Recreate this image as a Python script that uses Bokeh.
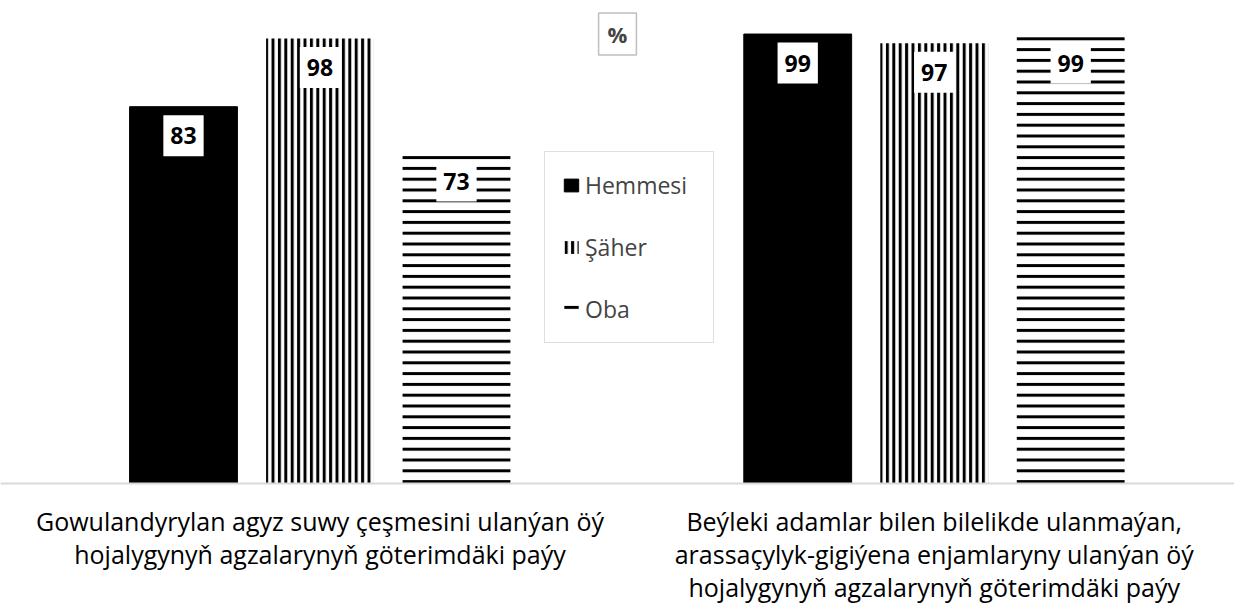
from bokeh.plotting import figure
from bokeh.models import Range1d, Span, Label, Legend, LegendItem, ColumnDataSource
from bokeh.core.properties import value
from bokeh.embed import file_html
from bokeh.resources import INLINE

# ---- data ----
categories = [
    "Gowulandyrylan agyz suwy çeşmesini ulanýan öý\nhojalygynyň agzalarynyň göterimdäki paýy",
    "Beýleki adamlar bilen bilelikde ulanmaýan,\narassaçylyk-gigiýena enjamlaryny ulanýan öý\nhojalygynyň agzalarynyň göterimdäki paýy",
]
series = ["Hemmesi", "Şäher", "Oba"]
hemmesi = [83, 99]
saher = [98, 97]
oba = [73, 99]
unit_label = "%"

values_by_series = [hemmesi, saher, oba]

# ---- layout helpers ----
GROUP_PAD = 1.5
n_series = len(series)
group_step = n_series + GROUP_PAD

def xpos(g, s):
    return g * group_step + s + 0.5

FONT = "Open Sans"
W, H = 1234, 605

p = figure(width=W, height=H, output_backend="svg", toolbar_location=None,
           x_range=Range1d(-0.8407, 8.2), y_range=Range1d(-26.87, 106.39),
           min_border=0)
p.axis.visible = False
p.grid.visible = False
p.outline_line_color = None
p.background_fill_color = "white"
p.border_fill_color = "white"

p.add_layout(Span(location=0, dimension="width", line_color="#d9d9d9", line_width=2))

styles = [
    dict(fill_color="black", line_color="black"),
    dict(fill_color="white", line_color=None, hatch_pattern="vertical_line",
         hatch_color="black", hatch_scale=6.4, hatch_weight=3),
    dict(fill_color="white", line_color=None, hatch_pattern="horizontal_line",
         hatch_color="black", hatch_scale=10.8, hatch_weight=3),
]

items = []
for s, (name, vals) in enumerate(zip(series, values_by_series)):
    xs = [xpos(g, s) for g in range(len(categories))]
    src = ColumnDataSource(dict(x=xs, top=vals, lab=[str(v) for v in vals]))
    r = p.vbar(x="x", top="top", bottom=0, width=0.79, source=src, **styles[s])
    items.append(LegendItem(label=name, renderers=[r]))
    p.text(x="x", y="top", text="lab", source=src, y_offset=29,
           text_align="center", text_baseline="middle",
           text_font=value(FONT), text_font_style="bold", text_font_size="23px",
           text_color="black", background_fill_color="white",
           padding=dict(left=7, right=7, top=12, bottom=12))

# category labels
cx = [g * group_step + n_series / 2 for g in range(len(categories))]
p.text(x=cx, y=[0] * len(categories), text=categories, y_offset=20,
       text_align="center", text_baseline="top", text_line_height=0.985,
       text_font=value(FONT), text_font_size="25px", text_color="black")

legend = Legend(items=items, location=(544, H - 343), orientation="vertical",
                glyph_width=18, glyph_height=16, label_height=28, spacing=30,
                padding=17, margin=0, label_standoff=5, label_width=111,
                label_text_font=FONT, label_text_font_size="23px",
                border_line_color="#bfbfbf", border_line_width=1.5,
                background_fill_color="white", background_fill_alpha=1)
p.add_layout(legend, "center")

p.add_layout(Label(x=617, y=H - 33.5, x_units="screen", y_units="screen",
                   text=unit_label, text_align="center", text_baseline="middle",
                   text_font=FONT, text_font_style="bold", text_font_size="22px",
                   border_line_color="#bfbfbf", border_line_width=1.5,
                   background_fill_color="white",
                   padding=dict(left=9, right=9, top=6, bottom=6)))

open("out.html", "w").write(file_html(p, INLINE))
